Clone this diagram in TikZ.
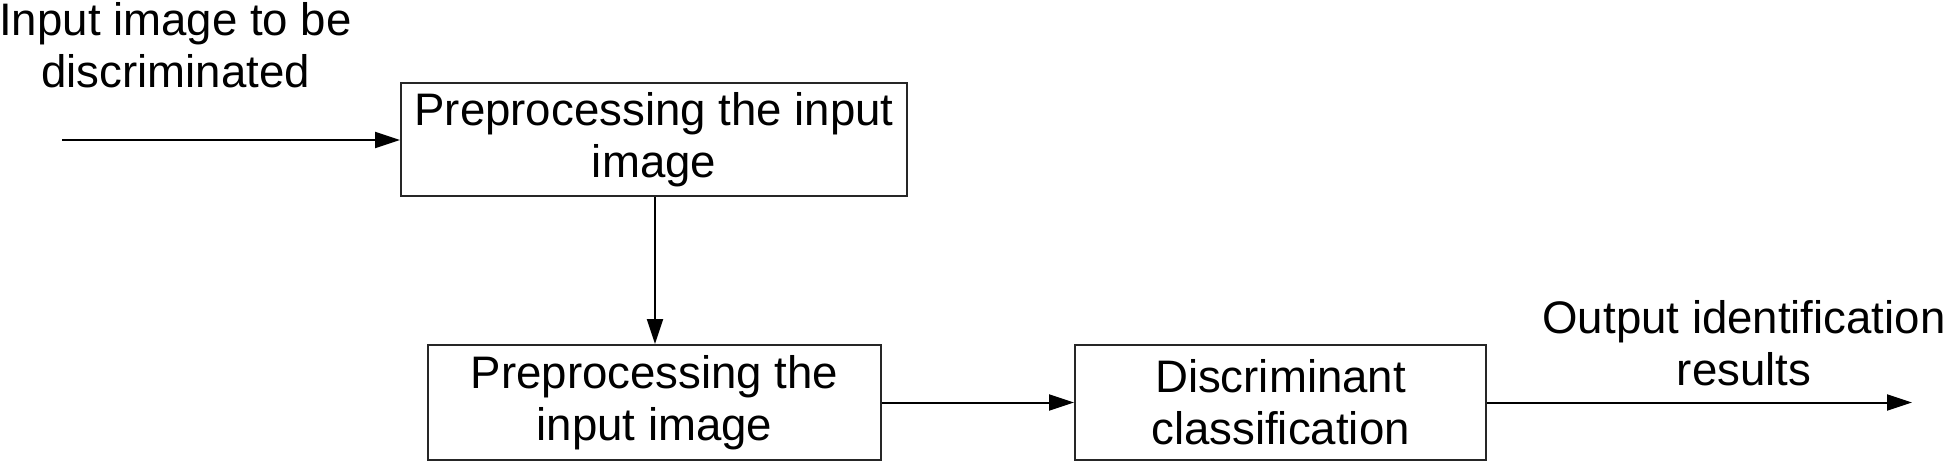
\documentclass[tikz,border=0pt]{standalone}
\usepackage{fontspec}
\setmainfont{Liberation Sans}
\usetikzlibrary{arrows.meta}
\begin{document}
\begin{tikzpicture}[x=1pt,y=-1pt,
  every node/.style={font=\fontsize{45.6}{52}\selectfont, inner sep=0pt, align=center},
  procbox/.style={draw=black!85, line width=2pt, rectangle},
  flow/.style={draw=black, line width=2pt, -{Triangle[length=25pt,width=16pt]}}]
\useasboundingbox (0,0) rectangle (1946,464);
\node[anchor=north] (inlbl) at (175.5,2) {Input image to be\\discriminated};
\node[procbox, minimum width=506pt, minimum height=113pt] (b1) at (654,139.5) {Preprocessing the input\\image};
\node[procbox, minimum width=453pt, minimum height=115pt] (b2) at (654.5,402.5) {Preprocessing the\\input image};
\node[procbox, minimum width=411pt, minimum height=115pt] (b3) at (1280.5,402.5) {Discriminant\\classification};
\node[anchor=north] (outlbl) at (1744,300) {Output identification\\results};
\coordinate (src) at (62,140);
\coordinate (dst) at (1912,402.5);
\draw[flow] (src) -- (b1.west |- src);
\draw[flow] (b1.south -| 655,0) -- (b2.north -| 655,0);
\draw[flow] (b2.east) -- (b3.west);
\draw[flow] (b3.east) -- (dst);
\end{tikzpicture}
\end{document}
